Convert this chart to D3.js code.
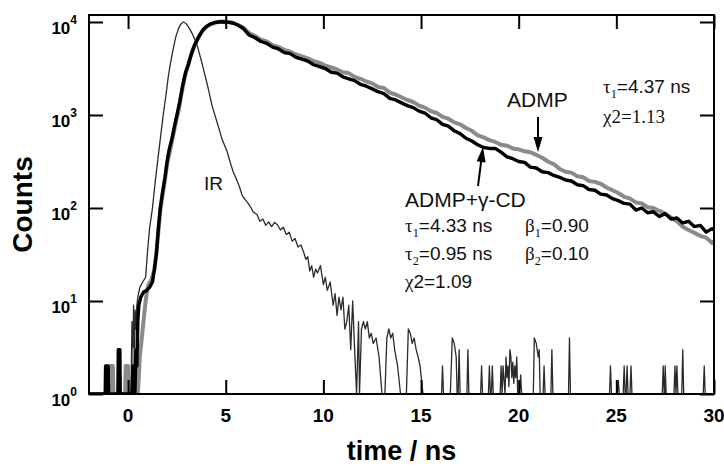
<!DOCTYPE html>
<html><head><meta charset="utf-8">
<script src="https://cdn.jsdelivr.net/npm/d3@7"></script>
<style>body{margin:0;background:#fff;} svg{display:block;}</style>
</head><body>
<svg id="c" width="724" height="467"></svg>
<script>
// ---------- data (time in ns, photon counts) ----------
const xTicks = [0, 5, 10, 15, 20, 25, 30];
const yTicks = [1, 10, 100, 1000, 10000];
const yTickExponents = ["0", "1", "2", "3", "4"];

// instrument response (IR), thin line
const irPoints = [
 [-2,0],[0.15,0],[0.2,6],[0.24,0],[0.28,9],[0.32,2],[0.36,8],[0.4,5],[0.45,9],[0.5,11],
 [0.6,14],[0.75,16],[0.9,18],[1.0,35],[1.1,60],[1.25,100],[1.4,200],[1.5,300],[1.65,550],[1.8,1000],
 [1.95,1700],[2.05,2500],[2.15,3400],[2.3,5000],[2.45,7000],[2.6,8700],[2.72,9600],[2.82,10000],[2.95,9700],[3.1,8800],
 [3.3,7400],[3.54,5600],[3.8,3500],[4.1,1950],[4.3,1260],[4.56,830],[4.8,560],[5.08,400],[5.25,300],[5.38,245],
 [5.5,215],[5.7,170],[5.85,135],[6.0,123],[6.15,112],[6.3,100],[6.4,91],[6.6,85],[6.75,72],[6.9,76],
 [7.05,65],[7.2,71],[7.35,63],[7.5,70],[7.65,66],[7.8,58],[7.95,62],[8.1,52],[8.25,55],[8.4,44],
 [8.55,47],[8.7,38],[8.85,40],[9.0,33],[9.1,28],[9.2,30],[9.3,21],[9.4,24],[9.5,18],[9.6,22],
 [9.7,20],[9.85,24],[10.0,15],[10.1,18],[10.2,13],[10.35,16],[10.5,9],[10.6,12],[10.7,7],[10.8,11],
 [10.9,8],[11.0,11],[11.1,5],[11.2,6],[11.3,9],[11.4,3],[11.5,10],[11.6,3],[11.7,0],[11.8,6],
 [11.85,0],[11.95,5],[12.05,6],[12.15,5],[12.25,6],[12.35,4],[12.45,4.5],[12.55,3.5],[12.7,4],[12.85,2.5],
 [13.0,0],[13.15,0],[13.25,4],[13.35,5],[13.45,4],[13.55,4.5],[13.65,3],[13.8,2],[13.95,0],[14.25,0],
 [14.35,5],[14.45,4.5],[14.55,3.5],[14.65,4],[14.75,3],[14.85,2.5],[14.95,2],[15.1,0],[16.05,0],[16.1,2],
 [16.15,0],[16.5,0],[16.6,4],[16.7,3.5],[16.8,2.5],[16.85,0],[16.9,0],[16.95,3],[17.0,0],[17.35,0],
 [17.4,3],[17.45,0],[18.05,0],[18.1,2],[18.15,0],[18.45,0],[18.5,2],[18.55,0],[18.6,0],[18.65,2],
 [18.7,0],[19.05,0],[19.1,2],[19.15,0],[19.2,2],[19.3,0],[19.35,2.5],[19.4,1.5],[19.45,2],[19.5,1.2],
 [19.55,3],[19.6,2.5],[19.65,1.5],[19.7,2.2],[19.75,1.3],[19.8,2],[19.85,1.5],[19.9,2.5],[19.95,0],[20.05,0],
 [20.1,1.6],[20.15,0],[20.75,0],[20.8,4],[20.9,3.5],[21.0,2.5],[21.05,3],[21.1,0],[21.25,0],[21.3,2],
 [21.35,0],[21.65,0],[21.7,3],[21.75,0],[22.55,0],[22.6,4],[22.65,0],[24.65,0],[24.7,2],[24.75,0],
 [25.05,0],[25.1,1.4],[25.15,0],[25.35,0],[25.4,2],[25.45,0],[25.5,0],[25.55,2],[25.6,0],[25.7,0],
 [25.75,2],[25.8,0],[27.35,0],[27.4,2],[27.45,0],[27.48,0],[27.5,2],[27.55,0],[27.95,0],[28.0,2],
 [28.05,0],[28.1,2],[28.15,0],[28.35,0],[28.4,3],[28.45,0],[29.45,0],[29.5,2],[29.55,0],[30,0]
];

// ADMP (grey, thick)
const admpPoints = [
 [-2,0],[-0.93,0],[-0.9,2],[-0.78,2],[-0.75,0],[-0.15,0],[-0.12,2],[0.0,2],[0.03,0],[0.28,0],
 [0.32,3],[0.36,0],[0.5,1],[0.6,2.5],[0.75,5],[0.85,8],[0.95,12],[1.05,15],[1.2,17],[1.35,22],
 [1.45,33],[1.55,55],[1.65,95],[1.75,130],[1.9,210],[2.0,295],[2.15,415],[2.3,590],[2.45,840],[2.6,1150],
 [2.75,1750],[2.9,2550],[3.05,3300],[3.2,4250],[3.35,5250],[3.5,6200],[3.65,7100],[3.8,8000],[4.0,8800],[4.2,9400],
 [4.4,9800],[4.6,10000],[4.8,10100],[5.0,10050],[5.2,9950],[5.4,9750],
 [5.6,9330],[5.9,8710],[6.2,7590],[6.5,7080],[6.8,6460],[7.1,6170],[7.4,5620],[7.7,5370],[8.0,5010],[8.3,4790],
 [8.6,4470],[8.9,4270],[9.2,4070],[9.5,3800],[9.8,3630],[10.1,3390],[10.4,3240],[10.7,3090],[11.0,2880],[11.3,2820],
 [11.6,2570],[11.9,2450],[12.2,2290],[12.5,2190],[12.8,2000],[13.1,1950],[13.4,1740],[13.7,1660],[14.0,1550],[14.3,1450],
 [14.6,1380],[14.9,1260],[15.2,1200],[15.5,1100],[15.8,1050],[16.1,955],[16.4,912],[16.7,832],[17.0,794],[17.3,724],
 [17.6,676],[17.9,603],[18.2,575],[18.5,537],[18.8,513],[19.1,479],[19.4,468],[19.7,437],[20.0,427],[20.3,407],
 [20.6,398],[20.9,372],[21.2,347],[21.5,316],[21.8,295],[22.1,263],[22.4,245],[22.7,240],[23.0,219],[23.3,214],
 [23.6,195],[23.9,191],[24.2,182],[24.5,166],[24.8,155],[25.1,145],[25.4,132],[25.7,126],[26.0,115],[26.3,112],
 [26.6,102],[26.9,100],[27.2,93],[27.5,87],[27.8,79],[28.1,72],[28.4,63],[28.7,58],[29.0,54],[29.3,50],
 [29.6,48],[29.9,42],[30.0,44]
];

// ADMP + gamma-CD (black, thick)
const admpCdPoints = [
 [-2,0],[-1.17,0],[-1.15,2],[-1.02,2],[-1.0,0],[-0.52,0],[-0.5,3],[-0.42,3],[-0.4,0],[0.2,0],
 [0.25,2],[0.3,0],[0.35,1],[0.4,3],[0.45,2],[0.5,6],[0.55,9],[0.65,11],[0.8,12.5],[0.95,13],
 [1.1,14],[1.25,16],[1.35,22],[1.45,32],[1.55,60],[1.65,100],[1.75,140],[1.9,220],[2.0,320],[2.1,420],
 [2.25,560],[2.4,800],[2.5,1000],[2.65,1400],[2.8,2100],[2.95,2900],[3.1,3550],[3.25,4600],[3.4,5600],[3.55,6500],
 [3.7,7400],[3.85,8300],[4.0,8900],[4.2,9500],[4.4,9800],[4.6,10000],[4.8,10050],[5.0,10000],[5.2,9900],[5.4,9700],
 [5.6,9330],[5.9,8510],[6.2,7240],[6.5,6760],[6.8,6170],[7.1,5890],[7.4,5370],[7.7,5130],[8.0,4680],[8.3,4570],
 [8.6,4170],[8.9,3980],[9.2,3800],[9.5,3470],[9.8,3310],[10.1,3160],[10.4,2880],[10.7,2820],[11.0,2570],[11.3,2450],
 [11.6,2340],[11.9,2140],[12.2,2040],[12.5,1910],[12.8,1780],[13.1,1700],[13.4,1510],[13.7,1450],[14.0,1350],[14.3,1260],
 [14.6,1200],[14.9,1100],[15.2,1050],[15.5,933],[15.8,891],[16.1,794],[16.4,759],[16.7,676],[17.0,631],[17.3,562],
 [17.6,525],[17.9,479],[18.2,447],[18.5,437],[18.8,437],[19.1,398],[19.4,355],[19.7,339],[20.0,316],[20.3,309],
 [20.6,275],[20.9,269],[21.2,245],[21.5,240],[21.8,224],[22.1,214],[22.4,200],[22.7,195],[23.0,178],[23.3,174],
 [23.6,158],[23.9,155],[24.2,141],[24.5,138],[24.8,126],[25.1,120],[25.4,112],[25.7,110],[26.0,95],[26.3,100],
 [26.6,89],[26.9,91],[27.2,81],[27.5,87],[27.8,76],[28.1,78],[28.4,69],[28.7,72],[29.0,63],[29.3,65],
 [29.6,55],[29.9,60],[30.0,58]
];

// ---------- drawing ----------
const svg = d3.select("#c");
const L = 89, R = 714, T = 15, B = 394;
const x = d3.scaleLinear().domain([-2, 30]).range([L, R]);
const y = d3.scaleLog().domain([1, 11890]).range([B, T]);
const SANS = "'Liberation Sans', Arial, Helvetica, sans-serif";
const SERIF = "'Liberation Serif', 'Times New Roman', serif";

svg.append("defs").append("clipPath").attr("id", "plotclip")
  .append("rect").attr("x", L).attr("y", T).attr("width", R - L).attr("height", B - T);

const line = d3.line()
  .x(d => x(d[0]))
  .y(d => y(Math.max(1, d[1])));

const plot = svg.append("g").attr("clip-path", "url(#plotclip)");
plot.append("path").datum(irPoints).attr("d", line)
  .attr("fill", "none").attr("stroke", "#2a2a2a").attr("stroke-width", 1.3).attr("stroke-linejoin", "round");
plot.append("path").datum(admpPoints).attr("d", line)
  .attr("fill", "none").attr("stroke", "#8a8a8a").attr("stroke-width", 4).attr("stroke-linejoin", "round");
plot.append("path").datum(admpCdPoints).attr("d", line)
  .attr("fill", "none").attr("stroke", "#000").attr("stroke-width", 3.4).attr("stroke-linejoin", "round");

// axes: inward ticks on all four sides
function styleAxis(g) {
  g.select(".domain").remove();
  g.selectAll(".tick line").attr("stroke", "#000").attr("stroke-width", 2);
  g.selectAll(".tick text").remove();
}
svg.append("g").attr("transform", `translate(0,${B})`)
  .call(d3.axisBottom(x).tickValues(xTicks).tickSize(-14).tickFormat("")).call(styleAxis);
svg.append("g").attr("transform", `translate(0,${T})`)
  .call(d3.axisTop(x).tickValues(xTicks).tickSize(-14).tickFormat("")).call(styleAxis);
svg.append("g").attr("transform", `translate(${L},0)`)
  .call(d3.axisLeft(y).tickValues(yTicks).tickSize(-14).tickFormat("")).call(styleAxis);
svg.append("g").attr("transform", `translate(${R},0)`)
  .call(d3.axisRight(y).tickValues(yTicks).tickSize(-14).tickFormat("")).call(styleAxis);

svg.append("rect").attr("x", L).attr("y", T).attr("width", R - L).attr("height", B - T)
  .attr("fill", "none").attr("stroke", "#000").attr("stroke-width", 2);

// tick labels
svg.append("g").selectAll("text").data(xTicks).join("text")
  .attr("x", d => x(d)).attr("y", 422).attr("text-anchor", "middle")
  .attr("font-family", SANS).attr("font-weight", "bold").attr("font-size", 19)
  .text(d => d);

const yl = svg.append("g").selectAll("text").data(yTicks).join("text")
  .attr("x", 77).attr("y", d => y(d) + 12).attr("text-anchor", "end")
  .attr("font-family", SANS).attr("font-weight", "bold").attr("font-size", 17);
yl.append("tspan").text("10");
yl.append("tspan").attr("font-size", 12).attr("dy", -10).text((d, i) => yTickExponents[i]);

// axis titles
svg.append("text").attr("transform", `translate(32,${(T + B) / 2}) rotate(-90)`)
  .attr("text-anchor", "middle").attr("font-family", SANS).attr("font-weight", "bold")
  .attr("font-size", 28).text("Counts");
svg.append("text").attr("x", (L + R) / 2).attr("y", 460).attr("text-anchor", "middle")
  .attr("font-family", SANS).attr("font-weight", "bold").attr("font-size", 27).text("time / ns");

// annotations
function rich(xp, yp, parts, size) {
  const t = svg.append("text").attr("x", xp).attr("y", yp).attr("font-size", size).attr("fill", "#111");
  let shift = 0;
  parts.forEach(([s, kind]) => {
    const sp = t.append("tspan").text(s);
    if (kind === "sub") {
      sp.attr("font-family", SERIF).attr("font-size", size * 0.65).attr("dy", 5 - shift); shift = 5;
    } else {
      sp.attr("font-family", kind === "serif" ? SERIF : SANS).attr("dy", -shift); shift = 0;
    }
  });
  return t;
}
svg.append("text").attr("x", 204).attr("y", 190).attr("font-family", SANS).attr("font-size", 19)
  .attr("fill", "#111").text("IR");
svg.append("text").attr("x", 507).attr("y", 107).attr("font-family", SANS).attr("font-size", 21)
  .attr("fill", "#111").text("ADMP");
svg.append("text").attr("x", 405).attr("y", 207).attr("font-family", SANS).attr("font-size", 21)
  .attr("fill", "#111").text("ADMP+γ-CD");

rich(603, 93, [["τ", "serif"], ["1", "sub"], ["=4.37 ns", "sans"]], 19);
rich(603, 123, [["χ2=1.13", "serif"]], 19);
rich(405, 232, [["τ", "serif"], ["1", "sub"], ["=4.33 ns", "sans"]], 19);
rich(525, 232, [["β", "serif"], ["1", "sub"], ["=0.90", "sans"]], 19);
rich(405, 260, [["τ", "serif"], ["2", "sub"], ["=0.95 ns", "sans"]], 19);
rich(525, 260, [["β", "serif"], ["2", "sub"], ["=0.10", "sans"]], 19);
rich(405, 288, [["χ", "serif"], ["2=1.09", "sans"]], 19);

// arrows
function arrow(x1, y1, x2, y2) {
  const dx = x2 - x1, dy = y2 - y1, len = Math.hypot(dx, dy);
  const ux = dx / len, uy = dy / len, hl = 15, hw = 4.5;
  const bx = x2 - ux * hl, by = y2 - uy * hl;
  svg.append("line").attr("x1", x1).attr("y1", y1).attr("x2", bx + ux * 2).attr("y2", by + uy * 2)
    .attr("stroke", "#000").attr("stroke-width", 2);
  svg.append("path").attr("d",
    `M${x2},${y2}L${bx - uy * hw},${by + ux * hw}L${bx + uy * hw},${by - ux * hw}Z`).attr("fill", "#000");
}
arrow(538, 117, 538, 152);
arrow(478, 186, 483, 147);
</script>
</body></html>
